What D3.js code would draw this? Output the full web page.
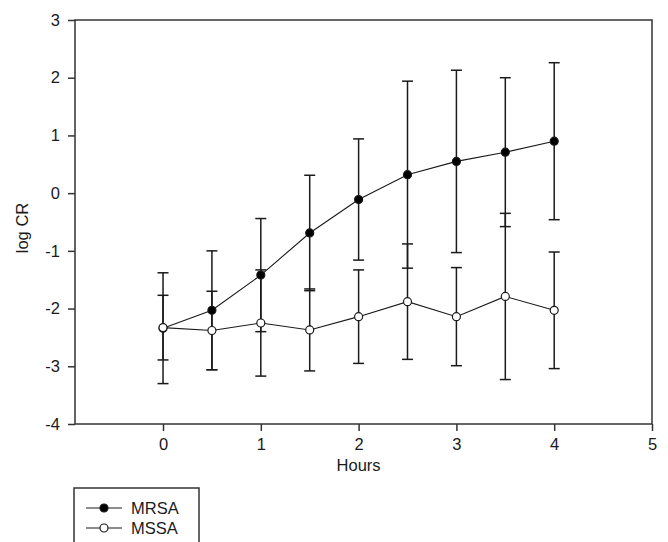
<!DOCTYPE html>
<html>
<head>
<meta charset="utf-8">
<script src="https://cdn.jsdelivr.net/npm/d3@7"></script>
<style>
  html, body { margin: 0; padding: 0; background: #fff; }
  svg { display: block; font-family: "Liberation Sans", Arial, sans-serif; }
</style>
</head>
<body>
<svg id="chart" width="668" height="542"></svg>
<script>
// ---- data ----
const hours = [0, 0.5, 1, 1.5, 2, 2.5, 3, 3.5, 4];
const mrsaMean = [-2.34, -2.03, -1.42, -0.69, -0.11, 0.32, 0.55, 0.71, 0.90];
const mrsaErr  = [0.96, 1.03, 0.98, 1.00, 1.05, 1.62, 1.58, 1.29, 1.36];
const mssaMean = [-2.33, -2.38, -2.25, -2.37, -2.14, -1.88, -2.14, -1.79, -2.03];
const mssaErr  = [0.56, 0.68, 0.92, 0.71, 0.81, 1.00, 0.85, 1.44, 1.01];
const xTicks = [0, 1, 2, 3, 4, 5];
const yTicks = [-4, -3, -2, -1, 0, 1, 2, 3];
const seriesNames = ["MRSA", "MSSA"];
const xTitle = "Hours";
const yTitle = "log CR";

// ---- layout ----
const svg = d3.select("#chart");
const pLeft = 75, pRight = 652, pTop = 20, pBottom = 424;
const x = d3.scaleLinear().domain([-0.9, 5]).range([pLeft, pRight]);
const y = d3.scaleLinear().domain([-4, 3]).range([pBottom, pTop]);
const ink = "#1a1a1a";
const fs = "16.5px";
const fmt = d => (d < 0 ? "-" + Math.abs(d) : String(d));

// frame
svg.append("rect")
  .attr("x", pLeft).attr("y", pTop)
  .attr("width", pRight - pLeft).attr("height", pBottom - pTop)
  .attr("fill", "none").attr("stroke", "#333").attr("stroke-width", 1.5);

// axes
const yAxis = svg.append("g").attr("transform", `translate(${pLeft},0)`)
  .call(d3.axisLeft(y).tickValues(yTicks).tickSize(7).tickPadding(8).tickFormat(fmt));
const xAxis = svg.append("g").attr("transform", `translate(0,${pBottom})`)
  .call(d3.axisBottom(x).tickValues(xTicks).tickSize(7).tickPadding(7).tickFormat(fmt));
[xAxis, yAxis].forEach(g => {
  g.select(".domain").remove();
  g.selectAll(".tick line").attr("stroke", "#333").attr("stroke-width", 1.5);
  g.selectAll(".tick text").attr("fill", ink)
    .style("font-size", fs).style("font-family", "'Liberation Sans', Arial, sans-serif");
});

// axis titles
svg.append("text").attr("x", x(2)).attr("y", 471)
  .attr("text-anchor", "middle").attr("fill", ink).style("font-size", fs).text(xTitle);
svg.append("text").attr("transform", `translate(28,228) rotate(-90)`)
  .attr("text-anchor", "middle").attr("fill", ink).style("font-size", fs).text(yTitle);

// series
const series = [
  { name: seriesNames[0], mean: mrsaMean, err: mrsaErr, fill: "#000" },
  { name: seriesNames[1], mean: mssaMean, err: mssaErr, fill: "#fff" }
];
const line = d3.line().x(d => x(d.h)).y(d => y(d.m));
const capW = 5.5;

series.forEach(s => {
  const pts = hours.map((h, i) => ({ h, m: s.mean[i], e: s.err[i] }));
  svg.append("path").datum(pts).attr("d", line)
    .attr("fill", "none").attr("stroke", ink).attr("stroke-width", 1.1);
});

series.forEach(s => {
  const pts = hours.map((h, i) => ({ h, m: s.mean[i], e: s.err[i] }));
  const g = svg.append("g").attr("stroke", ink).attr("stroke-width", 1.5);
  pts.forEach(p => {
    g.append("line").attr("x1", x(p.h)).attr("x2", x(p.h))
      .attr("y1", y(p.m + p.e)).attr("y2", y(p.m - p.e));
    [p.m + p.e, p.m - p.e].forEach(v => {
      g.append("line").attr("x1", x(p.h) - capW).attr("x2", x(p.h) + capW)
        .attr("y1", y(v)).attr("y2", y(v));
    });
  });
});

series.forEach(s => {
  const pts = hours.map((h, i) => ({ h, m: s.mean[i] }));
  svg.append("g").selectAll("circle").data(pts).join("circle")
    .attr("cx", d => x(d.h)).attr("cy", d => y(d.m)).attr("r", 4)
    .attr("fill", s.fill).attr("stroke", ink).attr("stroke-width", 1.2);
});

// legend
const lg = svg.append("g");
lg.append("rect").attr("x", 74).attr("y", 488).attr("width", 125).attr("height", 80)
  .attr("fill", "#fff").attr("stroke", "#333").attr("stroke-width", 1.5);
series.forEach((s, i) => {
  const yy = 508 + i * 20;
  lg.append("line").attr("x1", 86).attr("x2", 122).attr("y1", yy).attr("y2", yy)
    .attr("stroke", ink).attr("stroke-width", 1.2);
  lg.append("circle").attr("cx", 104).attr("cy", yy).attr("r", 4)
    .attr("fill", s.fill).attr("stroke", ink).attr("stroke-width", 1.2);
  lg.append("text").attr("x", 131).attr("y", yy + 6).attr("fill", ink)
    .style("font-size", fs).text(s.name);
});
</script>
</body>
</html>
